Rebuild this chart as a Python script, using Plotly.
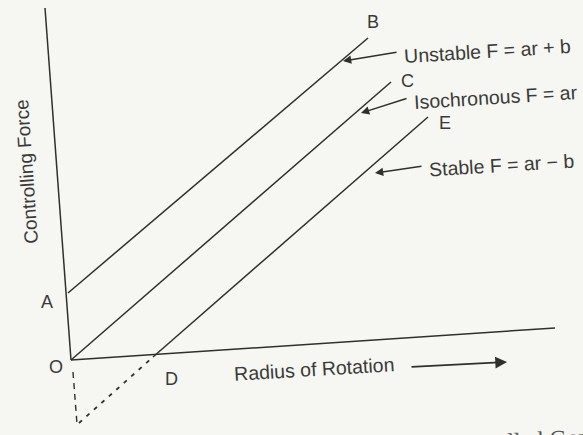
"""Controlling force vs radius of rotation diagram (scanned textbook figure)."""

import plotly.graph_objects as go

# Diagram coordinates in page units (x to the right, y downward, like the scan)
axis_f_x = [45, 71]          # controlling force axis
axis_f_y = [8, 360]
axis_r_x = [71, 555]         # radius of rotation axis
axis_r_y = [360, 328]

unstable_x = [68, 368]       # A -> B
unstable_y = [293, 38]
isochronous_x = [71, 391]    # O -> C
isochronous_y = [360, 82]
stable_x = [153, 428]        # D -> E
stable_y = [357, 117]

neg_axis_x = [73, 77]        # dashed extension below O
neg_axis_y = [372, 424]
stable_ext_x = [79, 153]     # dotted extension of the stable line
stable_ext_y = [423, 357]

point_labels = ["A", "O", "D", "B", "C", "E"]
point_x = [47, 56, 171, 373, 407, 445]
point_y = [302, 367, 379, 22, 81, 123]

curve_labels = ["Unstable F = ar + b", "Isochronous F = ar", "Stable F = ar \u2212 b"]
curve_text_x = [401, 411, 426]
curve_text_y = [51, 97, 165]
curve_tip_x = [343, 361, 375]
curve_tip_y = [61, 113, 173]

LINE = "#2f302c"
INK = "#3a3b38"
FONT = "Liberation Sans, Arial, sans-serif"
TILT = -3.5

fig = go.Figure()


def add_line(xs, ys, dash="solid", width=1.5):
    fig.add_trace(go.Scatter(
        x=xs, y=ys, mode="lines",
        line=dict(color=LINE, width=width, dash=dash),
        hoverinfo="skip", showlegend=False,
    ))


add_line(axis_f_x, axis_f_y)
add_line(axis_r_x, axis_r_y)
add_line(unstable_x, unstable_y)
add_line(isochronous_x, isochronous_y)
add_line(stable_x, stable_y)
add_line(neg_axis_x, neg_axis_y, dash="6px,5px", width=1.4)
add_line(stable_ext_x, stable_ext_y, dash="4px,6px", width=1.8)

# point letters
for lab, px, py in zip(point_labels, point_x, point_y):
    fig.add_annotation(x=px, y=py, text=lab, showarrow=False,
                       font=dict(family=FONT, size=18, color=INK),
                       xanchor="center", yanchor="middle")

# curve labels with arrows pointing to the lines
for lab, tx, ty, hx, hy in zip(curve_labels, curve_text_x, curve_text_y,
                               curve_tip_x, curve_tip_y):
    fig.add_annotation(x=tx, y=ty, text=lab, showarrow=False,
                       font=dict(family=FONT, size=19.5, color=INK),
                       xanchor="left", yanchor="middle", textangle=TILT)
    fig.add_annotation(x=hx, y=hy, ax=tx - 3, ay=ty + 1,
                       xref="x", yref="y", axref="x", ayref="y",
                       text="", showarrow=True, arrowhead=2, arrowsize=1.1,
                       arrowwidth=1.5, arrowcolor=LINE)

# axis titles
fig.add_annotation(x=314, y=369, text="Radius of Rotation", showarrow=False,
                   font=dict(family=FONT, size=19.5, color=INK),
                   xanchor="center", yanchor="middle", textangle=TILT)
fig.add_annotation(x=507, y=362, ax=410, ay=367,
                   xref="x", yref="y", axref="x", ayref="y",
                   text="", showarrow=True, arrowhead=2, arrowsize=1.3,
                   arrowwidth=1.8, arrowcolor=LINE)
fig.add_annotation(x=26, y=172, text="Controlling Force", showarrow=False,
                   font=dict(family=FONT, size=19, color=INK),
                   xanchor="center", yanchor="middle", textangle=-94)

# caption cut off by the bottom edge of the scan
fig.add_annotation(x=368, y=419, text="Spring Controlled Governor", showarrow=False,
                   font=dict(family="Liberation Serif, Times New Roman, serif",
                             size=24, color="#555652"),
                   xanchor="left", yanchor="top", textangle=TILT)

fig.update_layout(
    width=583, height=435,
    margin=dict(l=0, r=0, t=0, b=0),
    paper_bgcolor="#f6f6f3",
    plot_bgcolor="#f6f6f3",
    xaxis=dict(range=[0, 583], visible=False, fixedrange=True),
    yaxis=dict(range=[435, 0], visible=False, fixedrange=True),
    showlegend=False,
)

fig.write_html("out.html", config={"displayModeBar": False},
               post_script="document.body.style.margin='0';"
                           "document.body.style.background='#f6f6f3';")
